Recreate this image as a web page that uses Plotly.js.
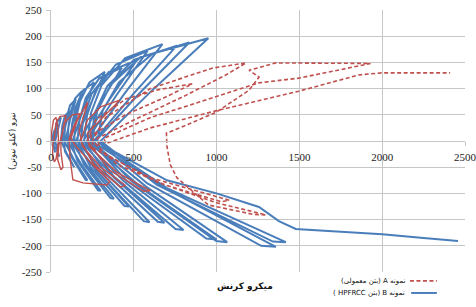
<!DOCTYPE html>
<html>
<head>
<meta charset="utf-8">
<script src="https://cdn.plot.ly/plotly-3.0.1.min.js"></script>
<style>html,body{margin:0;padding:0;background:#fff;}#chart{width:476px;height:307px;}</style>
</head>
<body>
<div id="chart"></div>
<script>
// Specimen B (HPFRCC) – hysteresis path, micro-strain vs force (kN)
const blueX = [
  0,10,14,22,35,22,15,18,25,20,14,
  20,26,38,60,42,25,36,50,44,30,
  60,68,84,114,87,65,92,140,134,84,
  80,84,95,115,150,115,85,136,220,209,122,
  100,105,118,145,186,143,105,180,300,284,160,
  120,127,148,192,260,190,127,224,380,359,198,
  140,148,175,232,325,233,147,272,470,444,239,
  160,172,210,292,427,294,168,334,595,560,290,
  180,196,245,350,520,350,189,382,685,645,331,
  200,218,272,392,583,392,210,440,800,752,380,
  220,242,305,448,673,447,230,532,1000,938,454,
  240,265,340,500,760,500,250,574,1064,998,487,
  250,278,362,540,835,543,260,693,1358,1269,582,
  280,312,410,615,950,615,290,700,1418,1340,640,
  300,310,700,1000,1256,1376,1478,1700,2000,2250,2458
];
const blueY = [
  0,5,14,21,25,10,0,-10,-22,-20,-8,
  0,22,37,45,22,0,-14,-30,-28,-12,
  0,29,48,58,29,-3,-22,-50,-49,-20,
  0,22,46,68,80,40,-3,-34,-75,-74,-30,
  0,27,55,81,95,48,-3,-43,-95,-94,-38,
  0,32,64,96,112,56,-3,-50,-110,-109,-44,
  0,38,76,112,132,66,-3,-56,-125,-124,-50,
  0,40,82,120,140,70,-3,-70,-155,-153,-62,
  0,45,90,132,155,78,-3,-70,-156,-154,-62,
  0,50,98,146,172,86,-3,-77,-170,-168,-68,
  0,54,106,158,185,92,-3,-85,-188,-186,-75,
  0,54,105,155,182,91,-3,-87,-193,-191,-77,
  0,56,108,160,188,94,-3,-91,-202,-200,-81,
  0,58,112,167,196,98,-3,-90,-193,-192,-84,
  0,-8,-75,-100,-126,-153,-168,-172,-178,-185,-191
];
// Specimen A (ordinary concrete) – early small cycles
const redEarlyX = [
  0,5,15,30,40,45,40,30,20,10,12,
  20,30,55,90,80,60,60,72,60,40,50,
  60,80,130,174,140,110,114,132,192,336,355,250,150,120,
  120,160,222,200,170,190,300,450,420,260,180,
  180,220,300,415,330,220,230,400,600,560,350,220
];
const redEarlyY = [
  0,20,40,45,30,5,-15,-35,-40,-25,0,
  5,35,47,48,30,5,-20,-50,-55,-35,0,
  0,35,50,52,30,5,-30,-74,-80,-84,-78,-45,-10,5,
  5,40,74,50,20,-10,-50,-85,-88,-45,0,
  0,40,65,78,50,15,-10,-60,-95,-96,-55,0
];
// Specimen A – later large cycles
const redLateX = [
  220,270,450,650,853,700,450,240,260,600,1076,1030,700,400,250,
  330,600,973,1178,1050,800,500,280,300,637,1000,1298,1220,950,760,720,700,697,
  793,998,1196,1256,1196,1358,1700,1929,1700,1496,1256,895,595,320,330,
  600,1000,1496,1857,1995,2410
];
const redLateY = [
  0,40,80,98,109,85,50,10,-15,-70,-113,-116,-85,-45,0,
  45,100,139,149,125,85,40,5,-20,-78,-118,-141,-140,-122,-70,-45,-10,15,
  27,55,97,122,135,149,149,148,133,120,111,74,44,5,-5,
  25,58,95,126,130,130
];
const xTicks = [0,500,1000,1500,2000,2500];
const yTicks = [-250,-200,-150,-100,-50,0,50,100,150,200,250];
// legend labels, stored in the order that the renderer's right-to-left layout shows as
// "نمونه A (بتن معمولی)" and "نمونه B (بتن HPFRCC )"
const legendA = '(بتن معمولی) A نمونه';
const legendB = '( HPFRCC بتن) B نمونه';
const xTitle = 'میکرو کرنش';
const yTitle = 'نیرو (کیلو نیوتن)';

const RED = '#c0504d', BLUE = '#4a7ebb', GRID = '#c6c6c6';

const traces = [
  {x: blueX, y: blueY, mode: 'lines', line: {color: BLUE, width: 2}, showlegend: false, hoverinfo: 'skip'},
  {x: redEarlyX, y: redEarlyY, mode: 'lines', line: {color: RED, width: 1.4}, showlegend: false, hoverinfo: 'skip'},
  {x: redLateX, y: redLateY, mode: 'lines', line: {color: RED, width: 1.6, dash: '4px,2.5px'}, showlegend: false, hoverinfo: 'skip'}
];

const tickFont = {family: 'Liberation Serif, Times New Roman, serif', size: 11, color: '#222'};
const layout = {
  width: 476, height: 307,
  margin: {l: 51, r: 11, t: 10, b: 35, pad: 0},
  paper_bgcolor: '#fff', plot_bgcolor: '#fff',
  showlegend: false,
  xaxis: {
    range: [0, 2500], tickvals: xTicks, ticktext: xTicks.map(String),
    showgrid: true, gridcolor: GRID, gridwidth: 1,
    zeroline: false, showline: true, linecolor: GRID, linewidth: 1,
    anchor: 'free', position: 0.5,
    ticks: 'outside', ticklen: 4, tickcolor: GRID, ticklabelstandoff: 2,
    ticklabeloverflow: 'allow',
    tickfont: tickFont, automargin: false, fixedrange: true
  },
  yaxis: {
    range: [-250, 250], tickvals: yTicks, ticktext: yTicks.map(String),
    domain: [0, 1],
    showgrid: true, gridcolor: GRID, gridwidth: 1,
    zeroline: false, showline: true, linecolor: GRID, linewidth: 1,
    ticks: 'outside', ticklen: 4, tickcolor: GRID, ticklabelstandoff: 2,
    ticklabeloverflow: 'allow',
    tickfont: tickFont, automargin: false, fixedrange: true
  },
  annotations: [
    {xref: 'paper', yref: 'paper', x: -0.094, y: 0.5, xanchor: 'center', yanchor: 'middle',
     text: yTitle, textangle: -90, showarrow: false,
     font: {family: 'DejaVu Sans', size: 8.5, color: '#111'}},
    {xref: 'paper', yref: 'paper', x: 0.468, y: -0.057, xanchor: 'center', yanchor: 'middle',
     text: '<b>' + xTitle + '</b>', showarrow: false,
     font: {family: 'DejaVu Sans', size: 9, color: '#111'}},
    {xref: 'paper', yref: 'paper', x: 0.86, y: -0.034, xanchor: 'right', yanchor: 'middle',
     text: legendA, showarrow: false,
     font: {family: 'DejaVu Sans', size: 7, color: '#111'}},
    {xref: 'paper', yref: 'paper', x: 0.86, y: -0.080, xanchor: 'right', yanchor: 'middle',
     text: legendB, showarrow: false,
     font: {family: 'DejaVu Sans', size: 7, color: '#111'}}
  ],
  shapes: [
    {type: 'line', xref: 'paper', yref: 'paper', x0: 0.867, x1: 0.932, y0: -0.034, y1: -0.034,
     line: {color: RED, width: 1.6, dash: '4px,2.5px'}},
    {type: 'line', xref: 'paper', yref: 'paper', x0: 0.87, x1: 0.932, y0: -0.080, y1: -0.080,
     line: {color: BLUE, width: 2}}
  ]
};
Plotly.newPlot('chart', traces, layout, {staticPlot: true, displayModeBar: false});
</script>
</body>
</html>
